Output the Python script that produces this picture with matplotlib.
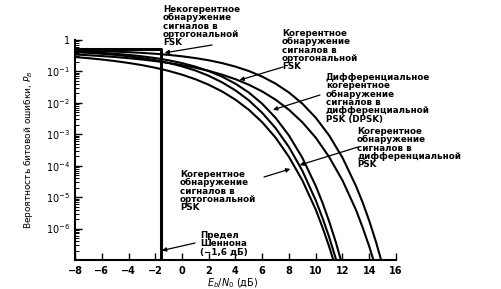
import numpy as np
import matplotlib
matplotlib.use("Agg")
import matplotlib.pyplot as plt
from matplotlib.ticker import LogLocator, FixedLocator, NullFormatter

# Eb/N0 (dB) and bit error probability
ncfsk_x = [-8, -7, -6, -5, -4, -3, -2, -1, 0, 1, 2, 3, 4, 5, 6, 7, 8, 9, 10, 11, 12, 13, 13.5, 14, 14.5, 15]
ncfsk_y = [0.462, 0.4525, 0.441, 0.427, 0.410, 0.389, 0.365, 0.336, 0.303, 0.266, 0.226, 0.184, 0.142,
           0.103, 0.0683, 0.0408, 0.0213, 0.00942, 0.00337, 9.2e-4, 1.8e-4, 2.3e-5, 6.9e-6, 1.76e-6, 3.8e-7, 6.8e-8]

cfsk_x = [-8, -7, -6, -5, -4, -3, -2, -1, 0, 1, 2, 3, 4, 5, 6, 7, 8, 9, 10, 11, 12, 13, 13.5, 14, 14.5]
cfsk_y = [0.345, 0.3275, 0.308, 0.287, 0.264, 0.2395, 0.2135, 0.186, 0.159, 0.131, 0.104, 0.0789, 0.0565,
          0.0377, 0.0230, 0.0126, 0.0060, 0.00241, 7.8e-4, 1.9e-4, 3.4e-5, 4.0e-6, 1.1e-6, 2.7e-7, 5.5e-8]

dpsk_x = [-8, -7, -6, -5, -4, -3, -2, -1, 0, 1, 2, 3, 4, 5, 6, 7, 8, 9, 10, 10.5, 11, 11.5, 12]
dpsk_y = [0.427, 0.41, 0.389, 0.3645, 0.336, 0.303, 0.266, 0.226, 0.184, 0.142, 0.1025, 0.068, 0.0406,
          0.0212, 0.00933, 0.00333, 9.1e-4, 1.78e-4, 2.27e-5, 6.7e-6, 1.7e-6, 3.7e-7, 6.5e-8]

depsk_x = [-8, -7, -6, -5, -4, -3, -2, -1, 0, 1, 2, 3, 4, 5, 6, 7, 8, 9, 10, 10.5, 11, 11.5, 12]
depsk_y = [0.409, 0.389, 0.364, 0.336, 0.303, 0.267, 0.2275, 0.186, 0.145, 0.107, 0.0726, 0.0449, 0.0249,
           0.012, 0.0048, 0.00157, 3.9e-4, 6.9e-5, 7.9e-6, 2.2e-6, 5.4e-7, 1.1e-7, 1.9e-8]

psk_x = [-8, -7, -6, -5, -4, -3, -2, -1, 0, 1, 2, 3, 4, 5, 6, 7, 8, 9, 10, 10.5, 11, 11.5]
psk_y = [0.287, 0.264, 0.2395, 0.2135, 0.186, 0.159, 0.131, 0.104, 0.0789, 0.0565, 0.0377, 0.023, 0.0126,
         0.006, 0.00241, 7.8e-4, 1.9e-4, 3.4e-5, 4.0e-6, 1.1e-6, 2.7e-7, 5.5e-8]

# Shannon limit: Pb = 0.5 up to -1.6 dB, then drops
shannon_x = [-8, -1.6, -1.6]
shannon_y = [0.5, 0.5, 1e-7]

xticks = [-8, -6, -4, -2, 0, 2, 4, 6, 8, 10, 12, 14, 16]
yticks = [1, 1e-1, 1e-2, 1e-3, 1e-4, 1e-5, 1e-6]
ytick_labels = ["1", r"$10^{-1}$", r"$10^{-2}$", r"$10^{-3}$", r"$10^{-4}$", r"$10^{-5}$", r"$10^{-6}$"]

W, H = 502, 289
fig = plt.figure(figsize=(W/100, H/100), dpi=100)
ax = fig.add_axes([75/W, 1-260/H, 321/W, 220/H])

for xs, ys in [(ncfsk_x, ncfsk_y), (cfsk_x, cfsk_y), (dpsk_x, dpsk_y), (depsk_x, depsk_y), (psk_x, psk_y)]:
	ax.plot(xs, ys, color="black", lw=1.5, solid_capstyle="butt")
ax.plot(shannon_x, shannon_y, color="black", lw=2.2)

ax.set_yscale("log")
ax.set_xlim(-8, 16)
ax.set_ylim(1e-7, 1)
ax.set_xticks(xticks)
ax.set_xticklabels([str(t).replace("-", "\u2212") for t in xticks], fontsize=7, fontweight="bold")
ax.yaxis.set_major_locator(FixedLocator(yticks))
ax.set_yticklabels(ytick_labels, fontsize=7)
ax.yaxis.set_minor_locator(LogLocator(base=10, subs=np.arange(2, 10), numticks=20))
ax.yaxis.set_minor_formatter(NullFormatter())
ax.tick_params(axis="both", which="major", direction="in", length=5, width=1)
ax.tick_params(axis="y", which="minor", direction="in", length=3, width=0.7)
ax.tick_params(axis="x", pad=4)
ax.spines["top"].set_visible(False)
ax.spines["right"].set_visible(False)
ax.spines["left"].set_linewidth(1.5)
ax.spines["bottom"].set_linewidth(1.5)

ax.set_xlabel(r"$E_b/N_0$ (дБ)", fontsize=7)
ax.xaxis.set_label_coords(0.49, -0.105)
ax.xaxis.label.set_va("center")
ax.set_ylabel(r"Вероятность битовой ошибки, $P_B$", fontsize=6.5, labelpad=8)

def fp(x, y):
	# pixel position measured from the top-left of the picture
	return (x, H - y)

txt = dict(fontsize=6.3, fontweight="bold", linespacing=0.9, va="top", ha="left")
labels = [
	((163, 5), "Некогерентное\nобнаружение\nсигналов в\nортогональной\nFSK"),
	((282, 29), "Когерентное\nобнаружение\nсигналов в\nортогональной\nFSK"),
	((326, 73), "Дифференциальное\nкогерентное\nобнаружение\nсигналов в\nдифференциальной\nPSK (DPSK)"),
	((357, 127), "Когерентное\nобнаружение\nсигналов в\nдифференциальной\nPSK"),
	((180, 170), "Когерентное\nобнаружение\nсигналов в\nортогональной\nPSK"),
	((200, 231), "Предел\nШеннона\n(\u22121,6 дБ)"),
]
for pos, s in labels:
	fig.text(pos[0]/W, 1-pos[1]/H, s, **txt)

arrows = [
	((212, 45), (-1.3, 0.39)),
	((283, 67), (4.3, 0.053)),
	((320, 95), (6.8, 0.006)),
	((358, 147), (8.8, 1.05e-4)),
	((264, 177), (8.1, 7.9e-5)),
	((195, 243), (-1.5, 2e-7)),
]
for start, tip in arrows:
	ax.annotate("", xy=tip, xycoords="data", xytext=fp(*start), textcoords="figure pixels",
		arrowprops=dict(arrowstyle="-|>", color="black", lw=0.9, mutation_scale=6, shrinkA=0, shrinkB=0))

fig.savefig("out.png", dpi=100)
